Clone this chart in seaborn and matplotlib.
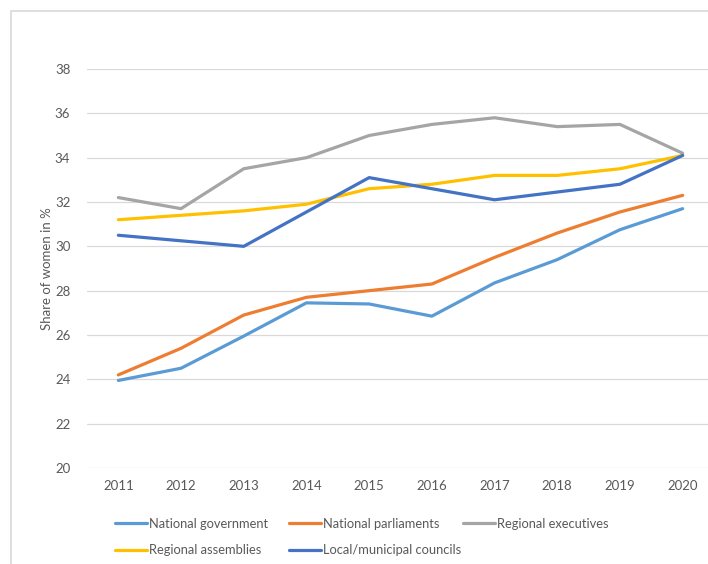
import numpy as np
import pandas as pd
import matplotlib
matplotlib.use("Agg")
import matplotlib.pyplot as plt
from matplotlib.patches import Rectangle
import seaborn as sns

# data
years = [2011, 2012, 2013, 2014, 2015, 2016, 2017, 2018, 2019, 2020]
national_government = [23.95, 24.5, 25.95, 27.45, 27.4, 26.85, 28.35, 29.4, 30.75, 31.7]
national_parliaments = [24.2, 25.4, 26.9, 27.7, 28.0, 28.3, 29.5, 30.6, 31.55, 32.3]
regional_executives = [32.2, 31.7, 33.5, 34.0, 35.0, 35.5, 35.8, 35.4, 35.5, 34.2]
regional_assemblies = [31.2, 31.4, 31.6, 31.9, 32.6, 32.8, 33.2, 33.2, 33.5, 34.1]
local_councils = [30.5, 30.25, 30.0, 31.55, 33.1, 32.6, 32.1, 32.45, 32.8, 34.1]

series_names = ["National government", "National parliaments", "Regional executives",
                "Regional assemblies", "Local/municipal councils"]
series_values = [national_government, national_parliaments, regional_executives,
                 regional_assemblies, local_councils]
colors = ["#5B9BD5", "#ED7D31", "#A5A5A5", "#FFC000", "#4472C4"]

rows = []
for name, vals in zip(series_names, series_values):
    for y, v in zip(years, vals):
        rows.append({"year": y, "share": v, "series": name})
df = pd.DataFrame(rows)

sns.set_style("white")
plt.rcParams["font.family"] = ["Lato", "DejaVu Sans"]
text_color = "#595959"

fig = plt.figure(figsize=(7.08, 5.64), dpi=100)
# outer chart border (cropped on right/bottom)
fig.patches.append(Rectangle((11 / 708, -0.1), 1.2, 1 - 11 / 564 + 0.1,
                             transform=fig.transFigure, fill=False,
                             edgecolor="#D9D9D9", linewidth=1.2))

ax = fig.add_axes([87 / 708, 1 - 468 / 564, 627 / 708, 399 / 564])

sns.lineplot(data=df, x="year", y="share", hue="series",
             hue_order=series_names, palette=colors,
             linewidth=2.3, ax=ax, legend=False)

ax.set_xlim(2010.5, 2020.5)
ax.set_ylim(20, 38)
ax.set_yticks(np.arange(20, 39, 2))
ax.set_xticks(years)
ax.set_xticklabels([str(y) for y in years])
ax.grid(axis="y", color="#D9D9D9", linewidth=0.9)
ax.set_axisbelow(True)
for s in ax.spines.values():
    s.set_visible(False)
ax.tick_params(axis="both", length=0, labelsize=9.5, colors=text_color)
ax.tick_params(axis="y", pad=12)
ax.tick_params(axis="x", pad=9)
ax.set_xlabel("")
ax.set_ylabel("Share of women in %", fontsize=9.5, color=text_color, labelpad=1)

# legend: equal-width columns like the original, one legend per column
handles = [plt.Line2D([], [], color=c, linewidth=2.3) for c in colors]
columns = [[0, 3], [1, 4], [2]]
col_x = [115, 289, 463]
for idx, x0 in zip(columns, col_x):
    fig.legend([handles[i] for i in idx], [series_names[i] for i in idx],
               loc="upper left", bbox_to_anchor=(x0 / 708, 1 - 518 / 564),
               frameon=False, fontsize=9.3, handlelength=2.5, handletextpad=0.15,
               borderpad=0, borderaxespad=0, labelspacing=1.1,
               labelcolor=text_color)

fig.savefig("out.png", dpi=100)
